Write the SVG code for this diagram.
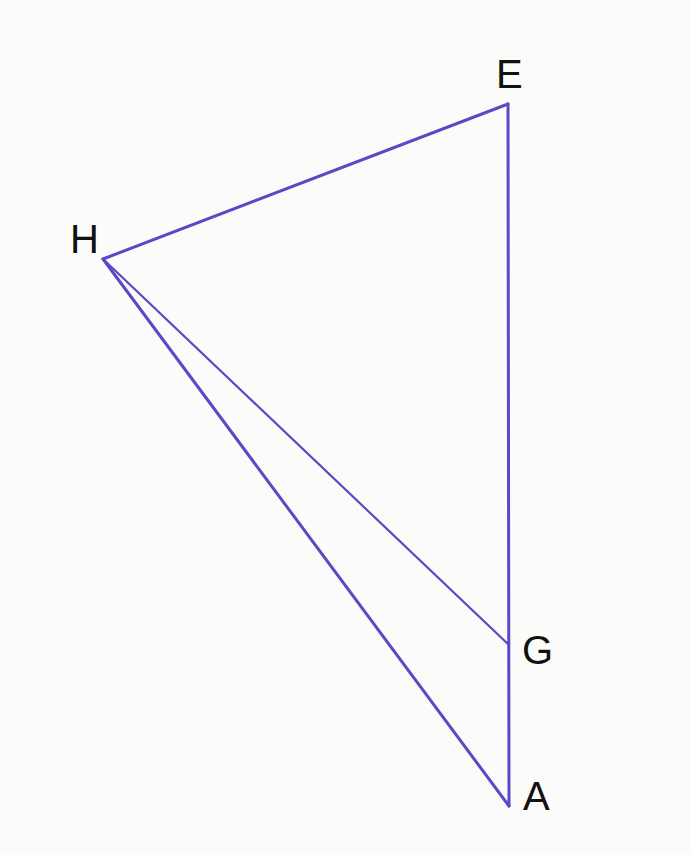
<svg xmlns="http://www.w3.org/2000/svg" width="691" height="854" viewBox="0 0 691 854">
<style>
.ln{stroke:#5a48c4;stroke-linecap:round;fill:none}
.lb{font-family:"Liberation Sans",Arial,sans-serif;font-size:40px;fill:#111}
</style>
<rect width="691" height="854" fill="#fbfcf9"/>
<g id="connectors">
<line class="ln" x1="508" y1="104" x2="103" y2="259" stroke-width="3"/>
<line class="ln" x1="508" y1="104" x2="509" y2="806" stroke-width="3"/>
<line class="ln" x1="103" y1="259" x2="509" y2="645" stroke-width="2.2"/>
<line class="ln" x1="103" y1="259" x2="509" y2="806" stroke-width="3"/>
</g>
<g id="E"><text class="lb" x="496" y="88">E</text></g>
<g id="H"><text class="lb" x="70" y="253">H</text></g>
<g id="G"><text class="lb" x="522" y="664">G</text></g>
<g id="A"><text class="lb" x="523" y="810">A</text></g>
</svg>
